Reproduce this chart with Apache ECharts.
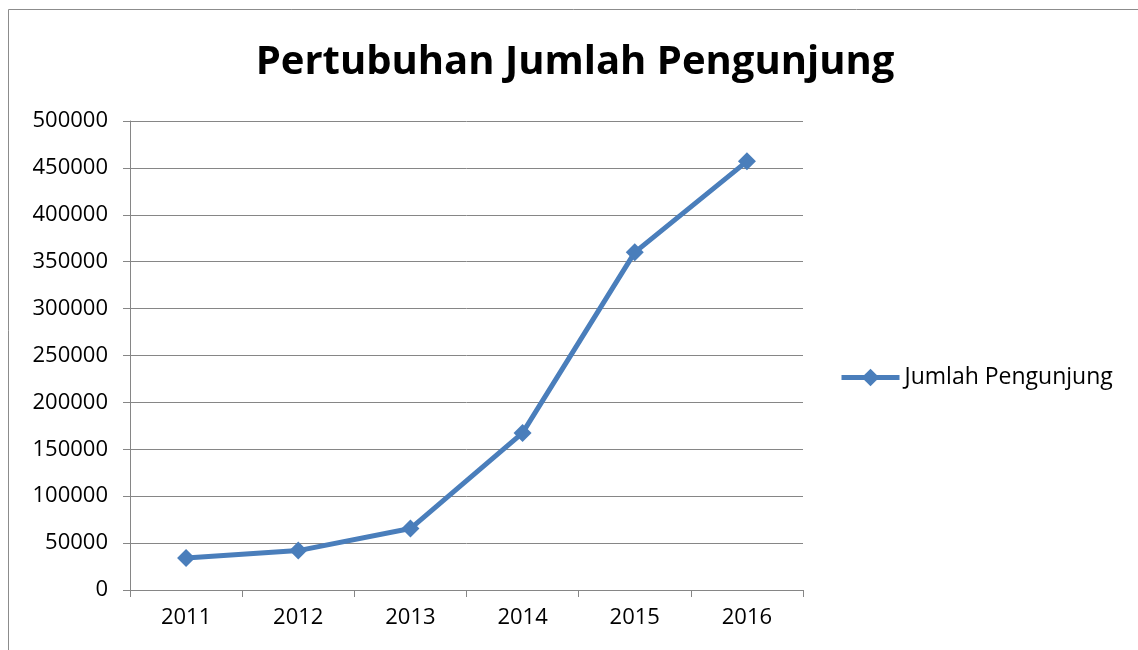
<!DOCTYPE html>
<html>
<head>
<meta charset="utf-8">
<script src="https://cdn.jsdelivr.net/npm/echarts@6/dist/echarts.min.js"></script>
<style>html,body{margin:0;padding:0;background:#fff;}#c{width:1138px;height:650px;}</style>
</head>
<body>
<div id="c"></div>
<script>
const titleText = 'Pertubuhan Jumlah Pengunjung';
const seriesName = 'Jumlah Pengunjung';
const years = ['2011', '2012', '2013', '2014', '2015', '2016'];
const visitors = [34000, 42000, 65500, 167500, 360000, 457000];

const chart = echarts.init(document.getElementById('c'));
const font = '"Open Sans", "Noto Sans", sans-serif';
chart.setOption({
  backgroundColor: '#ffffff',
  animation: false,
  title: {
    text: titleText,
    left: 570, top: 38, textAlign: 'center',
    textStyle: { fontFamily: font, fontWeight: 'bold', fontSize: 40, color: '#000' }
  },
  graphic: [{
    type: 'rect', shape: { x: 8.5, y: 9.5, width: 1200, height: 700 },
    style: { fill: 'none', stroke: '#8c8c8c', lineWidth: 1 }, silent: true
  }],
  legend: {
    left: 834, top: 361,
    itemWidth: 58, itemHeight: 22, itemGap: 4,
    lineStyle: { width: 5 },
    textStyle: { fontFamily: font, fontSize: 23, color: '#000' },
    data: [seriesName]
  },
  grid: { left: 130, right: 335, top: 121, bottom: 60, containLabel: false },
  xAxis: {
    type: 'category', data: years, boundaryGap: true,
    axisLine: { lineStyle: { color: '#868686', width: 1 } },
    axisTick: { show: true, length: 7, lineStyle: { color: '#868686' } },
    axisLabel: { fontFamily: font, fontSize: 22, color: '#000', margin: 17 }
  },
  yAxis: {
    type: 'value', min: 0, max: 500000, interval: 50000,
    axisLine: { show: true, lineStyle: { color: '#868686', width: 1 } },
    axisTick: { show: true, length: 7, lineStyle: { color: '#868686' } },
    splitLine: { show: true, lineStyle: { color: '#868686', width: 1 } },
    axisLabel: { fontFamily: font, fontSize: 22, color: '#000', margin: 22, formatter: v => String(v) }
  },
  series: [{
    name: seriesName, type: 'line', data: visitors,
    symbol: 'diamond', symbolSize: 18,
    lineStyle: { color: '#4a7ebb', width: 5 },
    itemStyle: { color: '#4a7ebb' }
  }]
});
</script>
</body>
</html>
